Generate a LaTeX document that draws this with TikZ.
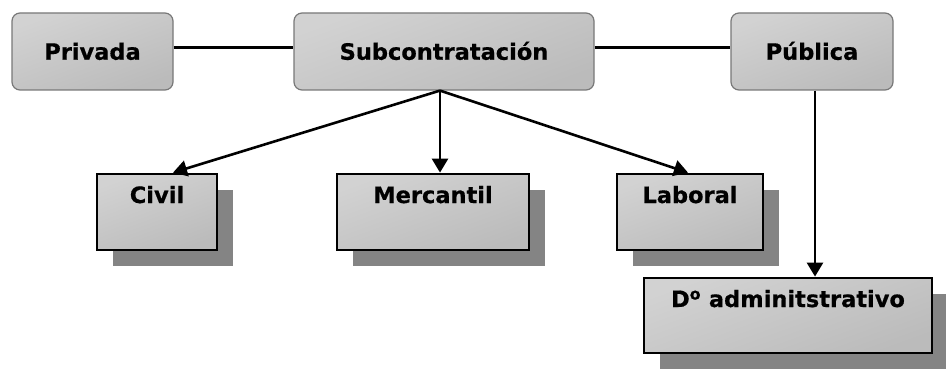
\documentclass[tikz,border=0pt]{standalone}
\usepackage{fontspec}
\setmainfont{DejaVu Sans}[BoldFeatures={FakeBold=0.6}]
\usetikzlibrary{arrows.meta,shadows,calc}
\definecolor{boxlight}{HTML}{D2D2D2}
\definecolor{boxdark}{HTML}{BBBBBB}
\definecolor{boxborder}{HTML}{787878}
\definecolor{shadowgray}{HTML}{848484}
\tikzset{
  topbox/.style={draw=boxborder, line width=1.2pt, rounded corners=8pt,
    top color=boxlight, bottom color=boxdark, shading angle=20,
    inner sep=0pt, minimum height=77pt, text height=16.5pt, text depth=0pt,
    font=\fontsize{22.5}{26}\selectfont\bfseries},
  subbox/.style={draw=black, line width=2.8pt,
    top color=boxlight, bottom color=boxdark, shading angle=20,
    inner sep=0pt, text height=29pt,
    font=\fontsize{22.5}{26}\selectfont\bfseries,
    drop shadow={shadow xshift=16pt, shadow yshift=-16pt, fill=shadowgray, opacity=1}},
  link/.style={line width=2.6pt, draw=black},
  arr/.style={line width=2.6pt, draw=black, -{Triangle[length=14pt,width=16pt]}}
}
\begin{document}
\begin{tikzpicture}[x=1pt,y=-1pt]
\useasboundingbox (0,0) rectangle (946,369);
\node[topbox, minimum width=161pt] (priv) at (92.5,51.5) {Privada};
\node[topbox, minimum width=300pt] (sub) at (444,51.5) {Subcontratación};
\node[topbox, minimum width=162pt] (pub) at (812,51.5) {Pública};
\node[subbox, minimum width=120pt, text depth=47pt] (civil) at (157,212) {Civil};
\node[subbox, minimum width=192pt, text depth=47pt] (merc) at (433,212) {Mercantil};
\node[subbox, minimum width=146pt, text depth=47pt] (lab) at (690,212) {Laboral};
\node[subbox, minimum width=288pt, text depth=46pt] (adm) at (788,315.5) {D\textsuperscript{o} adminitstrativo};
\draw[link] ([yshift=4pt]priv.east) -- ([yshift=4pt]sub.west);
\draw[link] ([yshift=4pt]sub.east) -- ([yshift=4pt]pub.west);
\draw[arr] ([xshift=-4pt]sub.south) -- ([xshift=16pt]civil.north);
\draw[arr] ([xshift=-4pt]sub.south) -- ([xshift=7pt]merc.north);
\draw[arr] ([xshift=-4pt]sub.south) -- ([xshift=-2pt]lab.north);
\draw[arr] ([xshift=3pt]pub.south) -- ([xshift=3pt]pub.south |- adm.north);
\end{tikzpicture}
\end{document}
